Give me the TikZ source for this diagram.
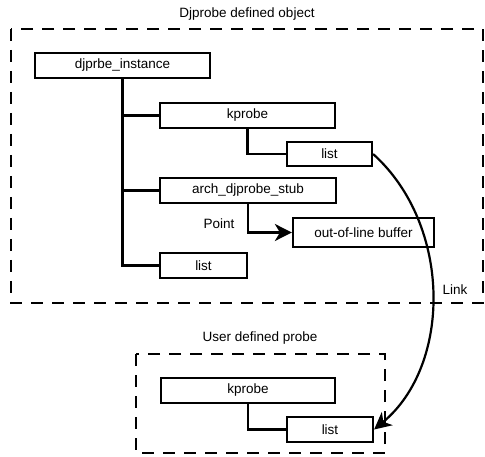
\documentclass[tikz,border=0pt]{standalone}
\usepackage{fontspec}
\setmainfont{Liberation Sans}
\usetikzlibrary{arrows.meta}
\begin{document}
\begin{tikzpicture}[x=1pt,y=-1pt,
  box/.style={draw,line width=2.2pt,inner sep=0pt,font=\fontsize{13.5}{16}\selectfont},
  lbl/.style={inner sep=0pt,font=\fontsize{13.5}{16}\selectfont},
  conn/.style={line width=2.2pt},
  frame/.style={line width=2.2pt,dash pattern=on 12pt off 9pt},
  bigarrow/.style={-{Stealth[length=17pt,width=17pt,inset=5pt]}}]
\useasboundingbox (0,0) rectangle (485,457);
% frames
\draw[frame] (11,29) rectangle (483,303);
\draw[frame] (136,354) rectangle (385,453);
\node[lbl] (t1) at (247,14) {Djprobe defined object};
\node[lbl] (t2) at (260,338) {User defined probe};
% boxes
\node[box,minimum width=175pt,minimum height=25pt] (inst) at (122.5,65.5) {djprbe\_instance};
\node[box,minimum width=175pt,minimum height=25pt] (kp1) at (247.5,115.5) {kprobe};
\node[box,minimum width=85pt,minimum height=24pt] (list1) at (329.5,154) {list};
\node[box,minimum width=176pt,minimum height=25pt] (stub) at (248,190.5) {arch\_djprobe\_stub};
\node[box,minimum width=141pt,minimum height=29pt] (oolb) at (363.5,232.5) {out-of-line buffer};
\node[box,minimum width=87pt,minimum height=25pt] (list2) at (203.5,265.5) {list};
\node[box,minimum width=174pt,minimum height=25pt] (kp2) at (248,390.5) {kprobe};
\node[box,minimum width=86pt,minimum height=25pt] (list3) at (330,429.5) {list};
% labels
\node[lbl] (pt) at (219,224) {Point};
\node[lbl] (lk) at (455,290) {Link};
% connectors
\draw[conn] (inst.south) |- (list2.west);
\draw[conn] (inst.south |- kp1.west) -- (kp1.west);
\draw[conn] (inst.south |- stub.west) -- (stub.west);
\draw[conn] (kp1.south) |- (list1.west);
\draw[conn,bigarrow] (stub.south) |- (oolb.west);
\draw[conn] (kp2.south) |- (list3.west);
\draw[conn,bigarrow] (list1.east) .. controls (452,225) and (452,365) .. (list3.east);
\end{tikzpicture}
\end{document}
